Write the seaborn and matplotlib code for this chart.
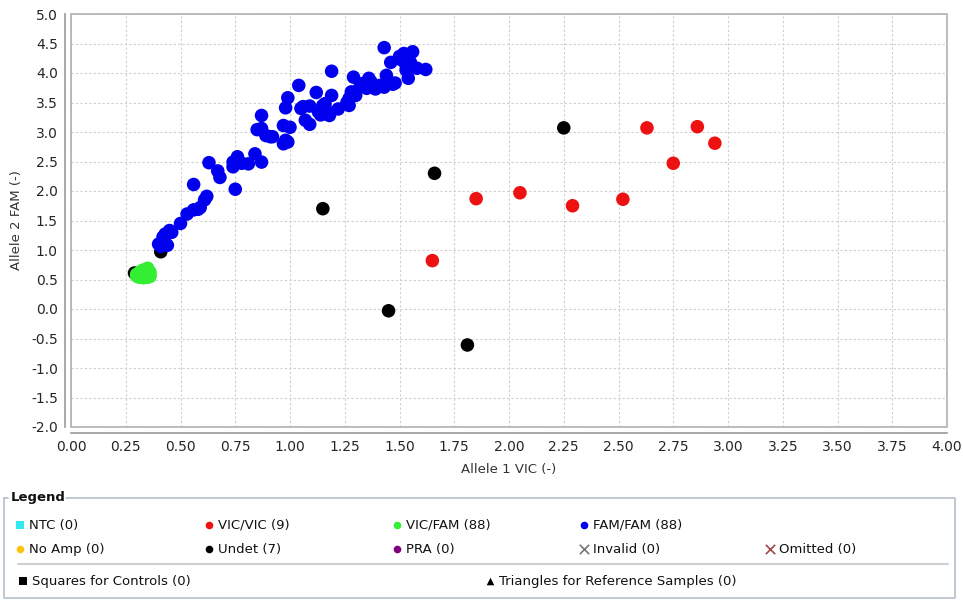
import matplotlib
matplotlib.use("Agg")
import matplotlib.pyplot as plt
from matplotlib.patches import Rectangle
import numpy as np
import pandas as pd
import seaborn as sns

# Allele 1 VIC (x) / Allele 2 FAM (y) per call group
undet_vic = [0.29, 0.41, 1.15, 1.45, 1.66, 1.81, 2.25]
undet_fam = [0.61, 0.97, 1.70, -0.03, 2.30, -0.61, 3.07]

vicvic_vic = [1.65, 1.85, 2.05, 2.29, 2.52, 2.63, 2.75, 2.86, 2.94]
vicvic_fam = [0.82, 1.87, 1.97, 1.75, 1.86, 3.07, 2.47, 3.09, 2.81]

vicfam_vic = [0.30, 0.31, 0.32, 0.33, 0.34, 0.35, 0.34, 0.33, 0.34, 0.35,
              0.36, 0.36, 0.35, 0.32, 0.31, 0.30, 0.33, 0.34, 0.35, 0.32,
              0.33, 0.36, 0.31, 0.34, 0.33, 0.35, 0.32, 0.36]
vicfam_fam = [0.56, 0.58, 0.60, 0.62, 0.64, 0.69, 0.66, 0.58, 0.55, 0.54,
              0.57, 0.60, 0.62, 0.55, 0.61, 0.59, 0.53, 0.59, 0.58, 0.64,
              0.66, 0.63, 0.54, 0.61, 0.56, 0.66, 0.57, 0.55]

famfam_vic = [0.63, 0.67, 0.68, 0.56, 0.62, 0.61, 0.59, 0.56, 0.53, 0.50,
              0.45, 0.43, 0.42, 0.44, 0.41, 0.75, 0.74, 0.76, 0.74, 0.78,
              0.81, 0.84, 0.87, 0.85, 0.87, 0.89, 0.91, 0.97, 1.00, 0.97,
              0.98, 0.87, 0.46,
              1.43, 1.52, 1.56, 1.51, 1.46, 1.53, 1.54, 1.58, 1.62, 1.54,
              1.44, 1.45, 1.47, 1.43, 1.41, 1.36, 1.37, 1.35, 1.33, 1.32,
              1.29, 1.28, 1.29, 1.27, 1.27, 1.19, 1.19, 1.12, 1.04, 0.99,
              0.98, 1.06, 1.09, 1.15, 1.16, 1.13, 1.16, 1.18, 1.22, 1.16,
              1.07, 1.09, 0.92,
              1.50, 1.48, 1.30, 1.14, 1.17, 1.53, 1.55,
              0.40, 0.43, 0.58, 0.99, 1.05, 1.26, 1.39]
famfam_fam = [2.48, 2.34, 2.23, 2.11, 1.91, 1.85, 1.72, 1.68, 1.61, 1.45,
              1.33, 1.27, 1.22, 1.08, 1.06, 2.03, 2.49, 2.58, 2.41, 2.47,
              2.46, 2.63, 2.49, 3.04, 3.06, 2.94, 2.92, 3.11, 3.08, 2.80,
              2.86, 3.28, 1.30,
              4.43, 4.33, 4.36, 4.22, 4.18, 4.13, 4.10, 4.08, 4.06, 3.91,
              3.96, 3.85, 3.81, 3.76, 3.79, 3.91, 3.85, 3.74, 3.82, 3.77,
              3.93, 3.68, 3.65, 3.57, 3.45, 4.03, 3.62, 3.67, 3.79, 3.58,
              3.41, 3.43, 3.44, 3.45, 3.48, 3.34, 3.31, 3.28, 3.39, 3.39,
              3.20, 3.13, 2.92,
              4.28, 3.83, 3.62, 3.29, 3.35, 4.05, 4.18,
              1.10, 1.12, 1.69, 2.83, 3.40, 3.50, 3.73]

x_ticks = np.arange(0, 4.01, 0.25)
y_ticks = np.arange(-2.0, 5.01, 0.5)

colors = {"Undet": "#000000", "VIC/VIC": "#ee1111",
          "VIC/FAM": "#33ee33", "FAM/FAM": "#0000ee"}

df = pd.concat([
    pd.DataFrame({"vic": undet_vic, "fam": undet_fam, "call": "Undet"}),
    pd.DataFrame({"vic": vicvic_vic, "fam": vicvic_fam, "call": "VIC/VIC"}),
    pd.DataFrame({"vic": vicfam_vic, "fam": vicfam_fam, "call": "VIC/FAM"}),
    pd.DataFrame({"vic": famfam_vic, "fam": famfam_fam, "call": "FAM/FAM"}),
], ignore_index=True)

sns.set_style("white")
plt.rcParams["font.family"] = ["DejaVu Sans"]

fig = plt.figure(figsize=(9.63, 6.02), dpi=100)
ax = fig.add_axes([71 / 963, 1 - 427 / 602, 876 / 963, 413 / 602])

sns.scatterplot(data=df, x="vic", y="fam", hue="call", palette=colors,
                s=95, linewidth=0, alpha=1, legend=False, ax=ax, zorder=3)

ax.set_xlim(0, 4)
ax.set_ylim(-2, 5)
ax.set_xticks(x_ticks)
ax.set_yticks(y_ticks)
ax.set_xticklabels([f"{v:.2f}" for v in x_ticks], family="Liberation Sans",
                   fontsize=8.5, color="#333333")
ax.set_yticklabels([f"{v:.1f}" for v in y_ticks], family="Liberation Sans",
                   fontsize=8.5, color="#333333")
ax.grid(True, color="#cfcfcf", linestyle=(0, (2, 2)), linewidth=0.8)
ax.set_axisbelow(True)

for side in ["top", "right"]:
    ax.spines[side].set_visible(False)
for side in ["left", "bottom"]:
    ax.spines[side].set_position(("outward", 4.5))
    ax.spines[side].set_color("#999999")
    ax.spines[side].set_linewidth(1.2)
ax.tick_params(axis="both", direction="out", length=3, width=1,
               color="#999999", pad=2)
ax.add_patch(Rectangle((0, 0), 1, 1, transform=ax.transAxes, fill=False,
                       edgecolor="#b0b0b0", linewidth=1.2, clip_on=False,
                       zorder=5))

ax.set_xlabel("Allele 1 VIC (-)", fontsize=9.5, color="#333333", labelpad=6)
ax.set_ylabel("Allele 2 FAM (-)", fontsize=9.5, color="#333333", labelpad=6)

# legend panel drawn in pixel space
lg = fig.add_axes([0, 0, 1, 1], zorder=-1)
lg.set_xlim(0, 963)
lg.set_ylim(602, 0)
lg.axis("off")
box_c = "#b4c0cc"
lg.plot([4, 8, None, 66, 955, 955, 4, 4], [498, 498, None, 498, 498, 598, 598, 498],
        color=box_c, lw=1.2)
lg.plot([18, 948], [564, 564], color="#d0d0d0", lw=1.5)
lg.text(11, 498, "Legend", fontsize=9.5, fontweight="bold", va="center",
        color="#111111")

fs = 9.5
items = [
    (20, 525, "s", "#33e8f0", "NTC (0)"),
    (209, 525, "o", "#ee1111", "VIC/VIC (9)"),
    (397, 525, "o", "#33ee33", "VIC/FAM (88)"),
    (584, 525, "o", "#0000ee", "FAM/FAM (88)"),
    (20, 549, "o", "#ffc20e", "No Amp (0)"),
    (209, 549, "o", "#000000", "Undet (7)"),
    (397, 549, "o", "#800080", "PRA (0)"),
    (584, 549, "x", "#777777", "Invalid (0)"),
    (770, 549, "x", "#a04848", "Omitted (0)"),
    (23, 581, "s", "#000000", "Squares for Controls (0)"),
    (490, 581, "^", "#000000", "Triangles for Reference Samples (0)"),
]
for mx, my, mk, mc, label in items:
    lg.scatter([mx], [my], marker=mk, color=mc, s=30 if mk != "x" else 45,
               linewidths=1.2 if mk == "x" else 0)
    lg.text(mx + 9, my, label, fontsize=fs, va="center", color="#111111")

fig.savefig("out.png", dpi=100)
